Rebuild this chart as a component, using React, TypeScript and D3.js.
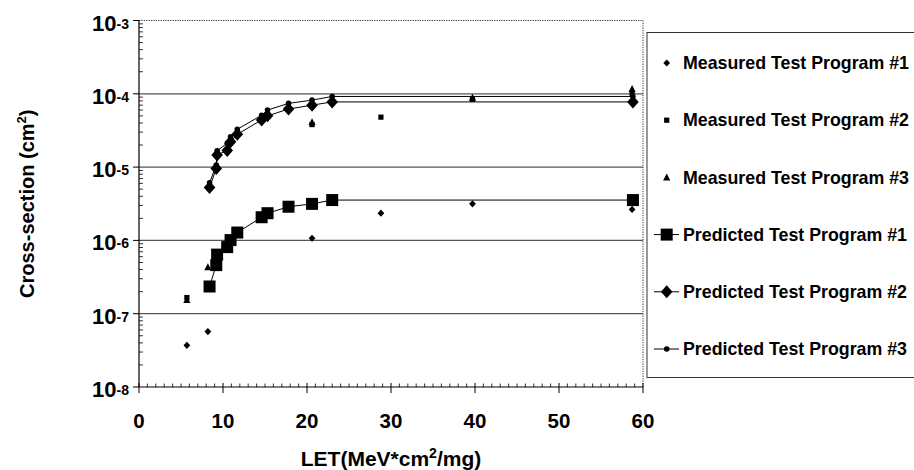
import React from "react";
import * as d3 from "d3";

// LET values (MeV*cm^2/mg) shared by the three predicted curves
const LET_PRED = [8.4, 9.2, 9.3, 10.5, 10.9, 11.7, 14.6, 15.3, 17.8, 20.6, 23.0, 58.8];
const PRED_1 = [2.35e-7, 4.6e-7, 6.4e-7, 8.1e-7, 1.01e-6, 1.28e-6, 2.07e-6, 2.35e-6, 2.88e-6, 3.15e-6, 3.55e-6, 3.55e-6];
const PRED_2 = [5.25e-6, 9.6e-6, 1.46e-5, 1.69e-5, 2.22e-5, 2.8e-5, 4.4e-5, 5.0e-5, 6.2e-5, 7.0e-5, 7.75e-5, 7.75e-5];
const PRED_3 = [6.1e-6, 1.07e-5, 1.67e-5, 2.11e-5, 2.6e-5, 3.28e-5, 5.1e-5, 6.0e-5, 7.4e-5, 8.2e-5, 9.2e-5, 9.2e-5];

// Measured cross-sections
const LET_MEAS_1 = [5.7, 8.2, 20.6, 28.8, 39.7, 58.7];
const MEAS_1 = [3.7e-8, 5.7e-8, 1.07e-6, 2.35e-6, 3.15e-6, 2.65e-6];
const LET_MEAS_2 = [5.7, 20.6, 28.8, 39.7, 58.7];
const MEAS_2 = [1.66e-7, 3.8e-5, 4.8e-5, 8.4e-5, 9.9e-5];
const LET_MEAS_3 = [5.7, 8.2, 20.6, 39.7, 58.7];
const MEAS_3 = [1.54e-7, 4.3e-7, 4.1e-5, 8.8e-5, 1.16e-4];

const X_TICKS = [0, 10, 20, 30, 40, 50, 60];
const Y_EXPONENTS = [-8, -7, -6, -5, -4, -3];
const LEGEND_LABELS = [
  "Measured Test Program #1",
  "Measured Test Program #2",
  "Measured Test Program #3",
  "Predicted Test Program #1",
  "Predicted Test Program #2",
  "Predicted Test Program #3",
];

const FONT = "'Liberation Sans', Arial, Helvetica, sans-serif";
const W = 914;
const H = 470;
const PLOT = { left: 139, right: 643, top: 20.5, bottom: 387 };

type Shape = "smallDiamond" | "smallSquare" | "triangle" | "bigSquare" | "bigDiamond" | "dot";

function Marker({ shape, cx, cy }: { shape: Shape; cx: number; cy: number }) {
  switch (shape) {
    case "smallDiamond":
      return <polygon points={`${cx},${cy - 3.6} ${cx + 3.4},${cy} ${cx},${cy + 3.6} ${cx - 3.4},${cy}`} fill="#000" />;
    case "smallSquare":
      return <rect x={cx - 2.6} y={cy - 2.6} width={5.2} height={5.2} fill="#000" />;
    case "triangle":
      return <polygon points={`${cx},${cy - 4} ${cx + 3.6},${cy + 3} ${cx - 3.6},${cy + 3}`} fill="#000" />;
    case "bigSquare":
      return <rect x={cx - 6} y={cy - 6} width={12} height={12} fill="#000" />;
    case "bigDiamond":
      return <polygon points={`${cx},${cy - 6.5} ${cx + 5.8},${cy} ${cx},${cy + 6.5} ${cx - 5.8},${cy}`} fill="#000" />;
    case "dot":
      return <circle cx={cx} cy={cy} r={2.8} fill="#000" />;
  }
}

export default function App() {
  const x = d3.scaleLinear().domain([0, 60]).range([PLOT.left, PLOT.right]);
  const y = d3.scaleLog().domain([1e-8, 1e-3]).range([PLOT.bottom, PLOT.top]);

  const line = d3
    .line<[number, number]>()
    .x((d) => x(d[0]))
    .y((d) => y(d[1]));

  const predicted: { values: number[]; shape: Shape }[] = [
    { values: PRED_1, shape: "bigSquare" },
    { values: PRED_2, shape: "bigDiamond" },
    { values: PRED_3, shape: "dot" },
  ];
  const measured: { xs: number[]; values: number[]; shape: Shape }[] = [
    { xs: LET_MEAS_1, values: MEAS_1, shape: "smallDiamond" },
    { xs: LET_MEAS_2, values: MEAS_2, shape: "smallSquare" },
    { xs: LET_MEAS_3, values: MEAS_3, shape: "triangle" },
  ];

  // log minor ticks on the y axis
  const minorY: number[] = [];
  Y_EXPONENTS.slice(0, -1).forEach((e) => {
    for (let m = 2; m <= 9; m++) minorY.push(m * Math.pow(10, e));
  });
  const minorX = d3.range(1, 60).filter((v) => v % 10 !== 0);

  const legendShapes: Shape[] = ["smallDiamond", "smallSquare", "triangle", "bigSquare", "bigDiamond", "dot"];
  const legendTop = 32.5;
  const legendRowY = (i: number) => 63 + i * 57.2;

  return (
    <svg
      width={W}
      height={H}
      style={{ position: "absolute", left: 0, top: 0, background: "#fff" }}
      fontFamily={FONT}
    >
      <rect x={0} y={0} width={W} height={H} fill="#fff" />

      {/* decade gridlines */}
      {Y_EXPONENTS.slice(1, -1).map((e) => (
        <line
          key={e}
          x1={PLOT.left}
          x2={PLOT.right}
          y1={y(Math.pow(10, e))}
          y2={y(Math.pow(10, e))}
          stroke="#555"
          strokeWidth={1.2}
        />
      ))}

      {/* frame: dotted top and right, solid axes */}
      <line x1={PLOT.left} x2={PLOT.right} y1={PLOT.top} y2={PLOT.top} stroke="#333" strokeDasharray="1.2,1.2" />
      <line x1={PLOT.right} x2={PLOT.right} y1={PLOT.top} y2={PLOT.bottom} stroke="#333" strokeDasharray="1.2,1.2" />
      <line x1={PLOT.left} x2={PLOT.left} y1={PLOT.top} y2={PLOT.bottom} stroke="#000" strokeWidth={1.2} />
      <line x1={PLOT.left} x2={PLOT.right} y1={PLOT.bottom} y2={PLOT.bottom} stroke="#000" strokeWidth={1.2} />

      {/* y ticks */}
      {minorY.map((v, i) => (
        <line key={i} x1={PLOT.left} x2={PLOT.left + 4} y1={y(v)} y2={y(v)} stroke="#000" strokeWidth={0.8} />
      ))}
      {Y_EXPONENTS.map((e) => (
        <line key={e} x1={PLOT.left - 6} x2={PLOT.left} y1={y(Math.pow(10, e))} y2={y(Math.pow(10, e))} stroke="#000" />
      ))}
      {Y_EXPONENTS.map((e) => (
        <text key={e} x={129} y={y(Math.pow(10, e)) + 10} textAnchor="end" fontSize={22} fontWeight="bold">
          10
          <tspan fontSize={14} dy={-2}>{`${e}`}</tspan>
        </text>
      ))}

      {/* x ticks */}
      {minorX.map((v) => (
        <line key={v} x1={x(v)} x2={x(v)} y1={PLOT.bottom} y2={PLOT.bottom - 3.5} stroke="#000" strokeWidth={0.8} />
      ))}
      {X_TICKS.map((v) => (
        <line key={v} x1={x(v)} x2={x(v)} y1={PLOT.bottom - 4} y2={PLOT.bottom + 6} stroke="#000" />
      ))}
      {X_TICKS.map((v) => (
        <text key={v} x={x(v)} y={428} textAnchor="middle" fontSize={20.5} fontWeight="bold">
          {v}
        </text>
      ))}

      {/* axis titles */}
      <text x={(PLOT.left + PLOT.right) / 2} y={466} textAnchor="middle" fontSize={21} fontWeight="bold">
        LET(MeV*cm
        <tspan fontSize={14} dy={-8}>2</tspan>
        <tspan dy={8}>/mg)</tspan>
      </text>
      <text
        transform={`translate(34,${(PLOT.top + PLOT.bottom) / 2}) rotate(-90)`}
        textAnchor="middle"
        fontSize={20}
        fontWeight="bold"
      >
        Cross-section (cm
        <tspan fontSize={13} dy={-8}>2</tspan>
        <tspan dy={8}>)</tspan>
      </text>

      {/* predicted curves */}
      {predicted.map((s, i) => (
        <g key={i}>
          <path
            d={line(LET_PRED.map((v, j) => [v, s.values[j]] as [number, number])) || ""}
            fill="none"
            stroke="#000"
            strokeWidth={1}
          />
          {LET_PRED.map((v, j) => (
            <Marker key={j} shape={s.shape} cx={x(v)} cy={y(s.values[j])} />
          ))}
        </g>
      ))}

      {/* measured points */}
      {measured.map((s, i) => (
        <g key={i}>
          {s.xs.map((v, j) => (
            <Marker key={j} shape={s.shape} cx={x(v)} cy={y(s.values[j])} />
          ))}
        </g>
      ))}

      {/* legend */}
      <rect x={647} y={legendTop} width={280} height={377.5 - legendTop} fill="#fff" stroke="#333" strokeWidth={1} />
      {LEGEND_LABELS.map((label, i) => (
        <g key={label}>
          {i >= 3 && (
            <line x1={654} x2={679} y1={legendRowY(i)} y2={legendRowY(i)} stroke="#000" strokeWidth={1} />
          )}
          <Marker shape={legendShapes[i]} cx={666.7} cy={legendRowY(i)} />
          <text x={683} y={legendRowY(i) + 6.2} fontSize={17.8} fontWeight="bold">
            {label}
          </text>
        </g>
      ))}
    </svg>
  );
}
